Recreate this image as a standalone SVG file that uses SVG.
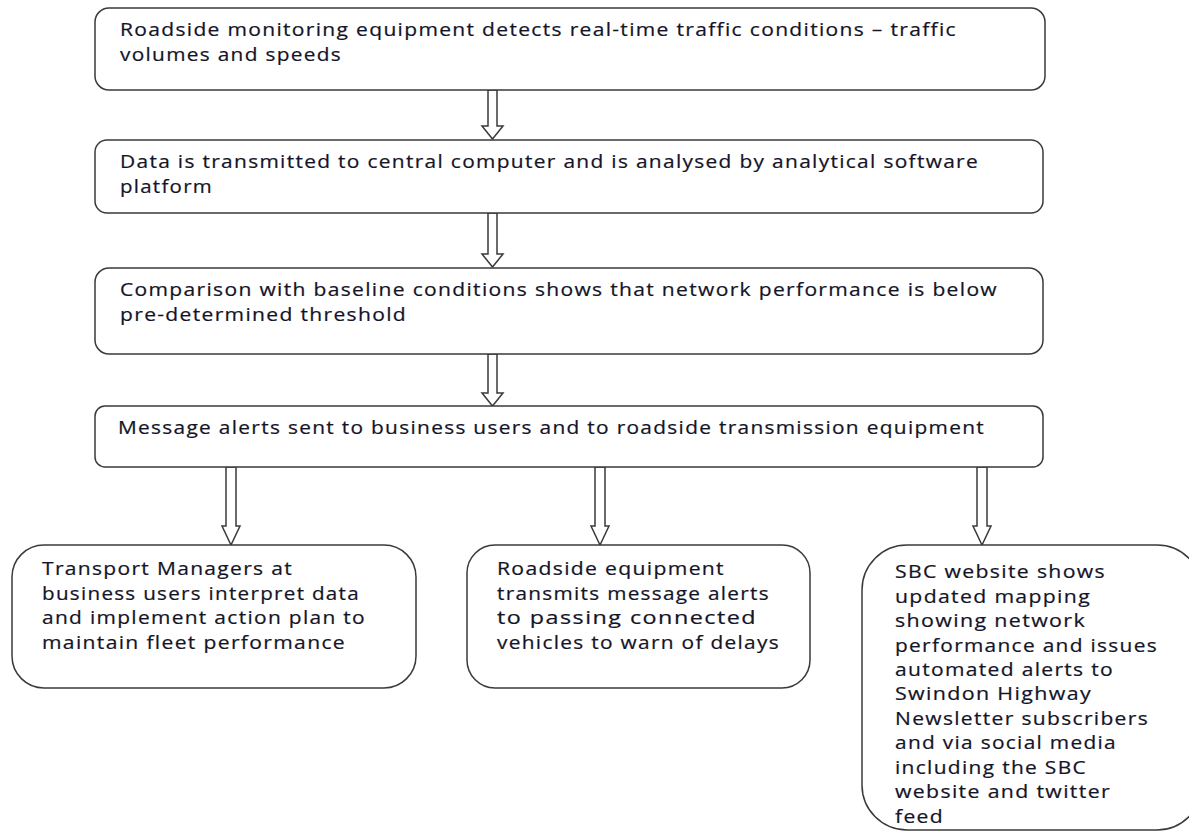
<svg xmlns="http://www.w3.org/2000/svg" width="1189" height="832" viewBox="0 0 1189 832">
<style>
.box{fill:#fff;stroke:#3a3a3a;stroke-width:1.5}
.t{font-family:"Open Sans","Noto Sans",sans-serif;font-size:17.5px;letter-spacing:1.1px;fill:#141428;stroke:#141428;stroke-width:0.2}
.arr{fill:#fff;stroke:#3a3a3a;stroke-width:1.5;stroke-linejoin:miter}
</style>
<rect width="1189" height="832" fill="#fff"/>
<g id="connectors">
<path class="arr" d="M488,90 V126 H482 L492.5,139 L503,126 H497 V90 Z"/>
<path class="arr" d="M488,213 V254 H482 L492.5,267 L503,254 H497 V213 Z"/>
<path class="arr" d="M488,354 V393 H482 L492.5,406 L503,393 H497 V354 Z"/>
<path class="arr" d="M226,467 V526 H222 L231,545 L240,526 H236 V467 Z"/>
<path class="arr" d="M595,467 V526 H591 L600,545 L609,526 H605 V467 Z"/>
<path class="arr" d="M977,467 V526 H973 L982,545 L991,526 H987 V467 Z"/>
</g>
<g id="n1"><rect class="box" x="95" y="8" width="950" height="82" rx="14"/>
<text class="t" x="120" y="36" textLength="837" lengthAdjust="spacingAndGlyphs">Roadside monitoring equipment detects real-time traffic conditions – traffic</text>
<text class="t" x="120" y="61" textLength="222" lengthAdjust="spacingAndGlyphs">volumes and speeds</text></g>
<g id="n2"><rect class="box" x="95" y="140" width="948" height="73" rx="12"/>
<text class="t" x="120" y="168" textLength="859" lengthAdjust="spacingAndGlyphs">Data is transmitted to central computer and is analysed by analytical software</text>
<text class="t" x="120" y="193" textLength="93" lengthAdjust="spacingAndGlyphs">platform</text></g>
<g id="n3"><rect class="box" x="95" y="268" width="948" height="86" rx="14"/>
<text class="t" x="120" y="296" textLength="878" lengthAdjust="spacingAndGlyphs">Comparison with baseline conditions shows that network performance is below</text>
<text class="t" x="120" y="321" textLength="287" lengthAdjust="spacingAndGlyphs">pre-determined threshold</text></g>
<g id="n4"><rect class="box" x="95" y="406" width="948" height="61" rx="10"/>
<text class="t" x="118" y="434" textLength="867" lengthAdjust="spacingAndGlyphs">Message alerts sent to business users and to roadside transmission equipment</text></g>
<g id="n5"><rect class="box" x="12" y="545" width="404" height="143" rx="32"/>
<text class="t" x="42" y="575" textLength="251" lengthAdjust="spacingAndGlyphs">Transport Managers at</text>
<text class="t" x="42" y="600" textLength="318" lengthAdjust="spacingAndGlyphs">business users interpret data</text>
<text class="t" x="42" y="624" textLength="324" lengthAdjust="spacingAndGlyphs">and implement action plan to</text>
<text class="t" x="42" y="649" textLength="304" lengthAdjust="spacingAndGlyphs">maintain fleet performance</text></g>
<g id="n6"><rect class="box" x="467" y="545" width="343" height="143" rx="28"/>
<text class="t" x="497" y="575" textLength="228" lengthAdjust="spacingAndGlyphs">Roadside equipment</text>
<text class="t" x="497" y="600" textLength="273" lengthAdjust="spacingAndGlyphs">transmits message alerts</text>
<text class="t" x="497" y="624" textLength="260" lengthAdjust="spacingAndGlyphs">to passing connected</text>
<text class="t" x="497" y="649" textLength="283" lengthAdjust="spacingAndGlyphs">vehicles to warn of delays</text></g>
<g id="n7"><rect class="box" x="862" y="545" width="340" height="285" rx="45"/>
<text class="t" x="895" y="578" textLength="211" lengthAdjust="spacingAndGlyphs">SBC website shows</text>
<text class="t" x="895" y="603" textLength="196" lengthAdjust="spacingAndGlyphs">updated mapping</text>
<text class="t" x="895" y="627" textLength="191" lengthAdjust="spacingAndGlyphs">showing network</text>
<text class="t" x="895" y="652" textLength="263" lengthAdjust="spacingAndGlyphs">performance and issues</text>
<text class="t" x="895" y="676" textLength="219" lengthAdjust="spacingAndGlyphs">automated alerts to</text>
<text class="t" x="895" y="700" textLength="197" lengthAdjust="spacingAndGlyphs">Swindon Highway</text>
<text class="t" x="895" y="725" textLength="254" lengthAdjust="spacingAndGlyphs">Newsletter subscribers</text>
<text class="t" x="895" y="749" textLength="222" lengthAdjust="spacingAndGlyphs">and via social media</text>
<text class="t" x="895" y="774" textLength="192" lengthAdjust="spacingAndGlyphs">including the SBC</text>
<text class="t" x="895" y="798" textLength="216" lengthAdjust="spacingAndGlyphs">website and twitter</text>
<text class="t" x="895" y="823" textLength="49" lengthAdjust="spacingAndGlyphs">feed</text></g>
</svg>
